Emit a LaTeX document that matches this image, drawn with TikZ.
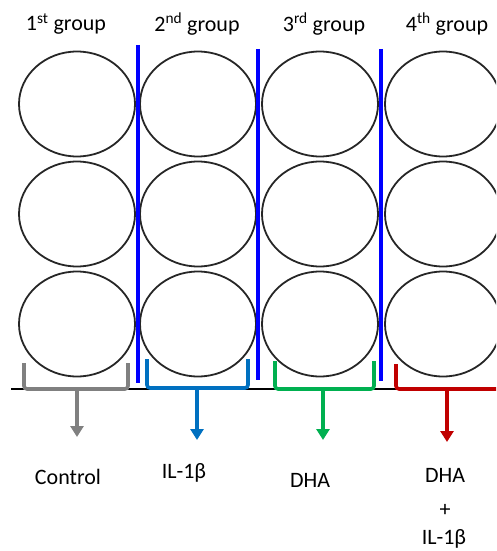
\documentclass[tikz,border=0pt]{standalone}
\usepackage{fontspec}
\setmainfont{Carlito}
\usetikzlibrary{shapes.geometric,arrows.meta}
\definecolor{cgray}{RGB}{128,128,128}
\definecolor{cblue}{RGB}{0,112,192}
\definecolor{cgreen}{RGB}{0,176,80}
\definecolor{cred}{RGB}{192,0,0}
\definecolor{divblue}{RGB}{0,0,255}
\tikzset{
  well/.style={draw=black!85, line width=1.8pt, ellipse, minimum width=116pt, minimum height=105pt, inner sep=0pt},
  divider/.style={draw=divblue, line width=3.6pt},
  bracket/.style={line width=3.6pt, rounded corners=3pt},
  pointer/.style={line width=3.2pt, -{Triangle[width=13pt,length=11pt]}},
  grouplabel/.style={font=\fontsize{22}{26}\selectfont, inner sep=0pt},
  treat/.style={font=\fontsize{22}{26}\selectfont, inner sep=0pt, align=center},
}
\begin{document}
\begin{tikzpicture}[x=1pt,y=-1pt]
\useasboundingbox (0,0) rectangle (496,551);
\clip (0,0) rectangle (496,551);
% group titles
\node[grouplabel] (g1) at (66,24) {1\textsuperscript{st} group};
\node[grouplabel] (g2) at (197,24) {2\textsuperscript{nd} group};
\node[grouplabel] (g3) at (324,24) {3\textsuperscript{rd} group};
\node[grouplabel] (g4) at (447,24) {4\textsuperscript{th} group};
% wells
\foreach \c/\x in {1/77,2/198,3/320,4/443}{
  \foreach \r/\y in {1/104,2/214,3/324}{
    \node[well] (w\c\r) at (\x,\y) {};
  }
}
% baseline
\coordinate (bl) at (11,389);
\coordinate (br) at (496,389);
\draw[black, line width=1.5pt] (bl) -- (br);
% dividers
\coordinate (d1t) at (138,45); \coordinate (d1b) at (138,383);
\coordinate (d2t) at (258,49); \coordinate (d2b) at (258,380);
\coordinate (d3t) at (381,49); \coordinate (d3b) at (381,381);
\draw[divider] (d1t) -- (d1b);
\draw[divider] (d2t) -- (d2b);
\draw[divider] (d3t) -- (d3b);
% brackets
\draw[bracket, cgray] (24,363) -- (24,389) -- (128,389) -- (128,363);
\draw[bracket, cblue] (147,359) -- (147,388) -- (248,388) -- (248,359);
\draw[bracket, cgreen] (275,361) -- (275,389) -- (374,389) -- (374,361);
\draw[bracket, cred] (396,364) -- (396,389) -- (502,389) -- (502,364);
\coordinate (b1) at (77,389);
\coordinate (b2) at (197,388);
\coordinate (b3) at (323,389);
\coordinate (b4) at (447,389);
\coordinate (t1) at (77,437);
\coordinate (t2) at (197,440);
\coordinate (t3) at (323,440);
\coordinate (t4) at (447,442);
\draw[pointer, cgray] (b1) -- (t1);
\draw[pointer, cblue] (b2) -- (t2);
\draw[pointer, cgreen] (b3) -- (t3);
\draw[pointer, cred] (b4) -- (t4);
% treatment labels
\node[treat] (l1) at (68,477) {Control};
\node[treat] (l2) at (184,473) {IL-1β};
\node[treat] (l3) at (310,480) {DHA};
\node[treat] (l4a) at (445,475) {DHA};
\node[treat] (l4b) at (445,510) {+};
\node[treat] (l4c) at (444,539) {IL-1β};
\end{tikzpicture}
\end{document}
